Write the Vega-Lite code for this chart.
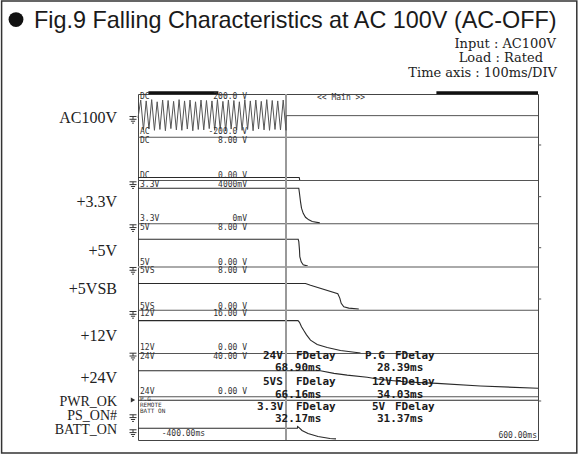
{
  "$schema": "https://vega.github.io/schema/vega-lite/v6.json",
  "width": 400,
  "height": 346,
  "autosize": {"type": "none"},
  "padding": {"left": 138, "top": 94, "right": 40, "bottom": 15},
  "background": "white",
  "config": {"view": {"stroke": "#444", "strokeWidth": 1}},
  "datasets": {
    "traces": [
      {"s": "ac", "t": -400, "d": 7.45}, {"s": "ac", "t": -393.2, "d": 7.86}, {"s": "ac", "t": -386.3, "d": 7.17}, {"s": "ac", "t": -379.5, "d": 7.84},
      {"s": "ac", "t": -372.6, "d": 7.19}, {"s": "ac", "t": -365.8, "d": 7.87}, {"s": "ac", "t": -358.9, "d": 7.16}, {"s": "ac", "t": -352.1, "d": 7.82},
      {"s": "ac", "t": -345.2, "d": 7.18}, {"s": "ac", "t": -338.4, "d": 7.86}, {"s": "ac", "t": -331.5, "d": 7.15}, {"s": "ac", "t": -324.7, "d": 7.85},
      {"s": "ac", "t": -317.8, "d": 7.2}, {"s": "ac", "t": -311, "d": 7.83}, {"s": "ac", "t": -304.1, "d": 7.17}, {"s": "ac", "t": -297.3, "d": 7.87},
      {"s": "ac", "t": -290.4, "d": 7.16}, {"s": "ac", "t": -283.6, "d": 7.84}, {"s": "ac", "t": -276.7, "d": 7.19}, {"s": "ac", "t": -269.9, "d": 7.86},
      {"s": "ac", "t": -263, "d": 7.15}, {"s": "ac", "t": -256.2, "d": 7.82}, {"s": "ac", "t": -249.3, "d": 7.18}, {"s": "ac", "t": -242.5, "d": 7.86},
      {"s": "ac", "t": -235.6, "d": 7.17}, {"s": "ac", "t": -228.8, "d": 7.85}, {"s": "ac", "t": -221.9, "d": 7.2}, {"s": "ac", "t": -215.1, "d": 7.84},
      {"s": "ac", "t": -208.2, "d": 7.16}, {"s": "ac", "t": -201.4, "d": 7.87}, {"s": "ac", "t": -194.5, "d": 7.18}, {"s": "ac", "t": -187.7, "d": 7.83},
      {"s": "ac", "t": -180.8, "d": 7.15}, {"s": "ac", "t": -174, "d": 7.86}, {"s": "ac", "t": -167.1, "d": 7.19}, {"s": "ac", "t": -160.3, "d": 7.85},
      {"s": "ac", "t": -153.4, "d": 7.17}, {"s": "ac", "t": -146.6, "d": 7.82}, {"s": "ac", "t": -139.7, "d": 7.16}, {"s": "ac", "t": -132.9, "d": 7.87},
      {"s": "ac", "t": -126, "d": 7.18}, {"s": "ac", "t": -119.2, "d": 7.84}, {"s": "ac", "t": -112.3, "d": 7.15}, {"s": "ac", "t": -105.5, "d": 7.86},
      {"s": "ac", "t": -98.6, "d": 7.19}, {"s": "ac", "t": -91.8, "d": 7.83}, {"s": "ac", "t": -84.9, "d": 7.17}, {"s": "ac", "t": -78.1, "d": 7.87},
      {"s": "ac", "t": -71.2, "d": 7.16}, {"s": "ac", "t": -64.4, "d": 7.85}, {"s": "ac", "t": -57.5, "d": 7.18}, {"s": "ac", "t": -50.7, "d": 7.84},
      {"s": "ac", "t": -43.8, "d": 7.17}, {"s": "ac", "t": -37, "d": 7.86}, {"s": "ac", "t": -30, "d": 7.16}, {"s": "ac", "t": -29.5, "d": 7.5},
      {"s": "ac", "t": 600, "d": 7.5},
      {"s": "ch2", "t": -400, "d": 6.07}, {"s": "ch2", "t": 3, "d": 6.07}, {"s": "ch2", "t": 4.5, "d": 6.0},
      {"s": "v33", "t": -400, "d": 5.82}, {"s": "v33", "t": 2, "d": 5.82}, {"s": "v33", "t": 3.75, "d": 5.7}, {"s": "v33", "t": 6.25, "d": 5.51},
      {"s": "v33", "t": 8.75, "d": 5.36}, {"s": "v33", "t": 13, "d": 5.24}, {"s": "v33", "t": 18.75, "d": 5.15}, {"s": "v33", "t": 27, "d": 5.09},
      {"s": "v33", "t": 35.5, "d": 5.05}, {"s": "v33", "t": 54.5, "d": 5.02},
      {"s": "v5", "t": -400, "d": 4.64}, {"s": "v5", "t": 0.5, "d": 4.64}, {"s": "v5", "t": 2, "d": 4.585}, {"s": "v5", "t": 3.75, "d": 4.39},
      {"s": "v5", "t": 4.5, "d": 4.24}, {"s": "v5", "t": 8, "d": 4.12}, {"s": "v5", "t": 13, "d": 4.05}, {"s": "v5", "t": 24.5, "d": 4.02},
      {"s": "v5sb", "t": -400, "d": 3.62}, {"s": "v5sb", "t": 18.75, "d": 3.62}, {"s": "v5sb", "t": 31.25, "d": 3.58}, {"s": "v5sb", "t": 99.5, "d": 3.38},
      {"s": "v5sb", "t": 104.5, "d": 3.28}, {"s": "v5sb", "t": 108, "d": 3.16}, {"s": "v5sb", "t": 114.5, "d": 3.08}, {"s": "v5sb", "t": 127, "d": 3.05},
      {"s": "v5sb", "t": 152, "d": 3.03},
      {"s": "v12", "t": -400, "d": 2.76}, {"s": "v12", "t": 0, "d": 2.76}, {"s": "v12", "t": 3.75, "d": 2.72}, {"s": "v12", "t": 8.75, "d": 2.62},
      {"s": "v12", "t": 14.5, "d": 2.53}, {"s": "v12", "t": 21.25, "d": 2.43}, {"s": "v12", "t": 31.25, "d": 2.31}, {"s": "v12", "t": 48, "d": 2.21},
      {"s": "v12", "t": 73, "d": 2.14}, {"s": "v12", "t": 106.25, "d": 2.07}, {"s": "v12", "t": 156.25, "d": 2.01},
      {"s": "v24", "t": -400, "d": 1.6}, {"s": "v24", "t": 56, "d": 1.6}, {"s": "v24", "t": 90, "d": 1.54}, {"s": "v24", "t": 123, "d": 1.5},
      {"s": "v24", "t": 173, "d": 1.45}, {"s": "v24", "t": 206, "d": 1.4}, {"s": "v24", "t": 273, "d": 1.34}, {"s": "v24", "t": 348, "d": 1.31},
      {"s": "v24", "t": 456, "d": 1.25}, {"s": "v24", "t": 600, "d": 1.195},
      {"s": "pg", "t": -400, "d": 0.92}, {"s": "pg", "t": 600, "d": 0.92},
      {"s": "batt", "t": -400, "d": 0.27}, {"s": "batt", "t": -1.5, "d": 0.27}, {"s": "batt", "t": -1, "d": 0.31}, {"s": "batt", "t": 2, "d": 0.29},
      {"s": "batt", "t": 10, "d": 0.22}, {"s": "batt", "t": 25, "d": 0.15}, {"s": "batt", "t": 50, "d": 0.08}, {"s": "batt", "t": 80, "d": 0.035},
      {"s": "batt", "t": 95, "d": 0.025}
    ],
    "scopeL": [
      {"t": -395, "d": 7.93, "label": "DC"}, {"t": -395, "d": 7.12, "label": "AC"},
      {"t": -395, "d": 6.91, "label": "DC"}, {"t": -395, "d": 6.1, "label": "DC"},
      {"t": -395, "d": 5.903, "label": "3.3V"}, {"t": -395, "d": 5.103, "label": "3.3V"},
      {"t": -395, "d": 4.909, "label": "5V"}, {"t": -395, "d": 4.086, "label": "5V"},
      {"t": -395, "d": 3.908, "label": "5VS"}, {"t": -395, "d": 3.082, "label": "5VS"},
      {"t": -395, "d": 2.906, "label": "12V"}, {"t": -395, "d": 2.12, "label": "12V"},
      {"t": -395, "d": 1.926, "label": "24V"}, {"t": -395, "d": 1.105, "label": "24V"},
      {"t": 47.5, "d": 7.915, "label": "<< Main >>"},
      {"t": -340.75, "d": 0.132, "label": "-400.00ms"}
    ],
    "scopeSmall": [
      {"t": -395, "d": 0.95, "label": "P.G"}, {"t": -395, "d": 0.805, "label": "REMOTE"},
      {"t": -395, "d": 0.66, "label": "BATT ON"}
    ],
    "scopeR": [
      {"t": -127.5, "d": 7.93, "label": "200.0 V"}, {"t": -127.5, "d": 7.12, "label": "-200.0 V"},
      {"t": -127.5, "d": 6.91, "label": "8.00 V"}, {"t": -127.5, "d": 6.1, "label": "0.00 V"},
      {"t": -127.5, "d": 5.903, "label": "4000mV"}, {"t": -127.5, "d": 5.103, "label": "0mV"},
      {"t": -127.5, "d": 4.909, "label": "8.00 V"}, {"t": -127.5, "d": 4.086, "label": "0.00 V"},
      {"t": -127.5, "d": 3.908, "label": "8.00 V"}, {"t": -127.5, "d": 3.082, "label": "0.00 V"},
      {"t": -127.5, "d": 2.906, "label": "16.00 V"}, {"t": -127.5, "d": 2.12, "label": "0.00 V"},
      {"t": -127.5, "d": 1.926, "label": "40.00 V"}, {"t": -127.5, "d": 1.105, "label": "0.00 V"},
      {"t": 597.5, "d": 0.092, "label": "600.00ms"}
    ],
    "meas": [
      {"t": -87.5, "d": 1.942, "label": "24V"}, {"t": -5, "d": 1.942, "label": "FDelay"},
      {"t": 167.5, "d": 1.942, "label": "P.G"}, {"t": 242.5, "d": 1.942, "label": "FDelay"},
      {"t": -57.5, "d": 1.665, "label": "68.90ms"}, {"t": 197.5, "d": 1.665, "label": "28.39ms"},
      {"t": -87.5, "d": 1.341, "label": "5VS"}, {"t": -5, "d": 1.341, "label": "FDelay"},
      {"t": 185, "d": 1.341, "label": "12V"}, {"t": 242.5, "d": 1.341, "label": "FDelay"},
      {"t": -57.5, "d": 1.04, "label": "66.16ms"}, {"t": 197.5, "d": 1.04, "label": "34.03ms"},
      {"t": -102.5, "d": 0.763, "label": "3.3V"}, {"t": -5, "d": 0.763, "label": "FDelay"},
      {"t": 185, "d": 0.763, "label": "5V"}, {"t": 242.5, "d": 0.763, "label": "FDelay"},
      {"t": -57.5, "d": 0.486, "label": "32.17ms"}, {"t": 197.5, "d": 0.486, "label": "31.37ms"}
    ],
    "chanTop": [
      {"t": -452.5, "d": 7.44, "label": "AC100V"},
      {"t": -452.5, "d": 5.51, "label": "+3.3V"},
      {"t": -452.5, "d": 4.36, "label": "+5V"},
      {"t": -452.5, "d": 3.49, "label": "+5VSB"},
      {"t": -452.5, "d": 2.4, "label": "+12V"},
      {"t": -452.5, "d": 1.445, "label": "+24V"}
    ],
    "chanBottom": [
      {"t": -452.5, "d": 0.89, "label": "PWR_OK"},
      {"t": -452.5, "d": 0.555, "label": "PS_ON#"},
      {"t": -452.5, "d": 0.231, "label": "BATT_ON"}
    ],
    "grounds": [
      {"t": -412.5, "d": 7.399}, {"t": -412.5, "d": 5.889}, {"t": -412.5, "d": 4.895}, {"t": -412.5, "d": 3.908},
      {"t": -412.5, "d": 2.89}, {"t": -412.5, "d": 1.926}, {"t": -412.5, "d": 0.502}, {"t": -412.5, "d": 0.155}
    ],
    "rticks": [{"t": 600, "t2": 608, "d": 6.821}, {"t": 600, "t2": 608, "d": 5.626}, {"t": 600, "t2": 608, "d": 4.446}, {"t": 600, "t2": 608, "d": 3.26}, {"t": 600, "t2": 608, "d": 0.902}]
  },
  "layer": [
    {
      "data": {"name": "traces"},
      "transform": [{"filter": "datum.s !== 'ac'"}],
      "mark": {"type": "line", "color": "#2a2a2a", "strokeWidth": 1.1},
      "encoding": {
        "x": {"field": "t", "type": "quantitative", "scale": {"domain": [-400, 600], "nice": false, "zero": false},
          "axis": {"title": null, "labels": false, "ticks": false, "domain": false, "grid": true, "gridDash": [1, 2], "gridColor": "#666", "gridWidth": 1,
            "values": [-300, -200, -100, 0, 100, 200, 300, 400, 500]}},
        "y": {"field": "d", "type": "quantitative", "scale": {"domain": [0, 8], "nice": false, "zero": false},
          "axis": {"title": null, "labels": false, "ticks": false, "domain": false, "grid": true, "gridDash": [1, 3], "gridColor": "#666", "gridWidth": 1,
            "values": [0.2, 0.4, 0.6, 0.8, 1.2, 1.4, 1.6, 1.8, 2.2, 2.4, 2.6, 2.8, 3.2, 3.4, 3.6, 3.8, 4.2, 4.4, 4.6, 4.8, 5.2, 5.4, 5.6, 5.8, 6.2, 6.4, 6.6, 6.8, 7.2, 7.4, 7.6, 7.8]}},
        "detail": {"field": "s", "type": "nominal"}
      }
    },
    {
      "data": {"values": [{"d": 1}, {"d": 2}, {"d": 3}, {"d": 5}, {"d": 6}, {"d": 7}]},
      "mark": {"type": "rule", "color": "#555", "strokeWidth": 1},
      "encoding": {"y": {"field": "d", "type": "quantitative", "scale": {"domain": [0, 8], "nice": false, "zero": false}, "axis": null}}
    },
    {
      "data": {"values": [{"d": 4}]},
      "mark": {"type": "rule", "color": "#aaa", "strokeWidth": 2},
      "encoding": {"y": {"field": "d", "type": "quantitative", "scale": {"domain": [0, 8], "nice": false, "zero": false}, "axis": null}}
    },
    {
      "data": {"values": [{"t": -30}]},
      "mark": {"type": "rule", "color": "#999", "strokeWidth": 2},
      "encoding": {"x": {"field": "t", "type": "quantitative", "scale": {"domain": [-400, 600], "nice": false, "zero": false}, "axis": null}}
    },
    {
      "data": {"name": "traces"},
      "transform": [{"filter": "datum.s === 'ac'"}],
      "mark": {"type": "line", "color": "#555", "strokeWidth": 1},
      "encoding": {
        "x": {"field": "t", "type": "quantitative", "scale": {"domain": [-400, 600], "nice": false, "zero": false}, "axis": null},
        "y": {"field": "d", "type": "quantitative", "scale": {"domain": [0, 8], "nice": false, "zero": false}, "axis": null}
      }
    },
    {
      "data": {"values": [{"t": -374, "t2": -199, "d": 8.03}, {"t": 346, "t2": 600, "d": 8.03}]},
      "mark": {"type": "rule", "color": "#111", "strokeWidth": 3},
      "encoding": {
        "x": {"field": "t", "type": "quantitative", "scale": {"domain": [-400, 600], "nice": false, "zero": false}, "axis": null},
        "x2": {"field": "t2"},
        "y": {"field": "d", "type": "quantitative", "scale": {"domain": [0, 8], "nice": false, "zero": false}, "axis": null}
      }
    },
    {
      "data": {"name": "rticks"},
      "mark": {"type": "rule", "color": "#555", "strokeWidth": 1},
      "encoding": {
        "x": {"field": "t", "type": "quantitative", "scale": {"domain": [-400, 600], "nice": false, "zero": false}, "axis": null},
        "x2": {"field": "t2"},
        "y": {"field": "d", "type": "quantitative", "scale": {"domain": [0, 8], "nice": false, "zero": false}, "axis": null}
      }
    },
    {
      "data": {"name": "scopeL"},
      "mark": {"type": "text", "font": "DejaVu Sans Mono", "fontSize": 8, "color": "#333", "align": "left", "baseline": "middle"},
      "encoding": {
        "x": {"field": "t", "type": "quantitative", "scale": {"domain": [-400, 600], "nice": false, "zero": false}, "axis": null},
        "y": {"field": "d", "type": "quantitative", "scale": {"domain": [0, 8], "nice": false, "zero": false}, "axis": null},
        "text": {"field": "label"}
      }
    },
    {
      "data": {"name": "scopeSmall"},
      "mark": {"type": "text", "font": "DejaVu Sans Mono", "fontSize": 6, "color": "#333", "align": "left", "baseline": "middle"},
      "encoding": {
        "x": {"field": "t", "type": "quantitative", "scale": {"domain": [-400, 600], "nice": false, "zero": false}, "axis": null},
        "y": {"field": "d", "type": "quantitative", "scale": {"domain": [0, 8], "nice": false, "zero": false}, "axis": null},
        "text": {"field": "label"}
      }
    },
    {
      "data": {"name": "scopeR"},
      "mark": {"type": "text", "font": "DejaVu Sans Mono", "fontSize": 8, "color": "#333", "align": "right", "baseline": "middle"},
      "encoding": {
        "x": {"field": "t", "type": "quantitative", "scale": {"domain": [-400, 600], "nice": false, "zero": false}, "axis": null},
        "y": {"field": "d", "type": "quantitative", "scale": {"domain": [0, 8], "nice": false, "zero": false}, "axis": null},
        "text": {"field": "label"}
      }
    },
    {
      "data": {"name": "meas"},
      "mark": {"type": "text", "font": "DejaVu Sans Mono", "fontSize": 11, "fontWeight": "bold", "color": "#1a1a1a", "align": "left", "baseline": "middle"},
      "encoding": {
        "x": {"field": "t", "type": "quantitative", "scale": {"domain": [-400, 600], "nice": false, "zero": false}, "axis": null},
        "y": {"field": "d", "type": "quantitative", "scale": {"domain": [0, 8], "nice": false, "zero": false}, "axis": null},
        "text": {"field": "label"}
      }
    },
    {
      "data": {"name": "chanTop"},
      "mark": {"type": "text", "font": "Liberation Serif", "fontSize": 16, "color": "#222", "align": "right", "baseline": "middle"},
      "encoding": {
        "x": {"field": "t", "type": "quantitative", "scale": {"domain": [-400, 600], "nice": false, "zero": false}, "axis": null},
        "y": {"field": "d", "type": "quantitative", "scale": {"domain": [0, 8], "nice": false, "zero": false}, "axis": null},
        "text": {"field": "label"}
      }
    },
    {
      "data": {"name": "chanBottom"},
      "mark": {"type": "text", "font": "Liberation Serif", "fontSize": 14, "color": "#222", "align": "right", "baseline": "middle"},
      "encoding": {
        "x": {"field": "t", "type": "quantitative", "scale": {"domain": [-400, 600], "nice": false, "zero": false}, "axis": null},
        "y": {"field": "d", "type": "quantitative", "scale": {"domain": [0, 8], "nice": false, "zero": false}, "axis": null},
        "text": {"field": "label"}
      }
    },
    {
      "data": {"name": "grounds"},
      "mark": {"type": "point", "shape": "M -1 -1 L 1 -1 M 0 -1 L 0 -0.2 M -1 -0.2 L 1 -0.2 M -0.6 0.35 L 0.6 0.35 M -0.25 0.9 L 0.25 0.9", "size": 49, "filled": false, "stroke": "#333", "strokeWidth": 1, "opacity": 1},
      "encoding": {
        "x": {"field": "t", "type": "quantitative", "scale": {"domain": [-400, 600], "nice": false, "zero": false}, "axis": null},
        "y": {"field": "d", "type": "quantitative", "scale": {"domain": [0, 8], "nice": false, "zero": false}, "axis": null}
      }
    },
    {
      "data": {"values": [{"t": -412.5, "d": 0.925}]},
      "mark": {"type": "point", "shape": "triangle-right", "size": 25, "filled": true, "color": "#333", "opacity": 1},
      "encoding": {
        "x": {"field": "t", "type": "quantitative", "scale": {"domain": [-400, 600], "nice": false, "zero": false}, "axis": null},
        "y": {"field": "d", "type": "quantitative", "scale": {"domain": [0, 8], "nice": false, "zero": false}, "axis": null}
      }
    },
    {
      "data": {"values": [{"t": -705, "d": 9.72}]},
      "mark": {"type": "point", "shape": "circle", "size": 220, "filled": true, "color": "#111", "opacity": 1},
      "encoding": {
        "x": {"field": "t", "type": "quantitative", "scale": {"domain": [-400, 600], "nice": false, "zero": false}, "axis": null},
        "y": {"field": "d", "type": "quantitative", "scale": {"domain": [0, 8], "nice": false, "zero": false}, "axis": null}
      }
    },
    {
      "data": {"values": [{"t": -660, "d": 9.52, "label": "Fig.9 Falling Characteristics at AC 100V (AC-OFF)"}]},
      "mark": {"type": "text", "font": "Liberation Sans", "fontSize": 23.4, "color": "#1a1a1a", "align": "left", "baseline": "alphabetic"},
      "encoding": {
        "x": {"field": "t", "type": "quantitative", "scale": {"domain": [-400, 600], "nice": false, "zero": false}, "axis": null},
        "y": {"field": "d", "type": "quantitative", "scale": {"domain": [0, 8], "nice": false, "zero": false}, "axis": null},
        "text": {"field": "label"}
      }
    },
    {
      "data": {"values": [
        {"t": 645, "d": 9.064, "label": "Input : AC100V"},
        {"t": 612.5, "d": 8.74, "label": "Load : Rated"},
        {"t": 647.5, "d": 8.393, "label": "Time axis : 100ms/DIV"}
      ]},
      "mark": {"type": "text", "font": "DejaVu Serif", "fontSize": 13, "color": "#222", "align": "right", "baseline": "alphabetic"},
      "encoding": {
        "x": {"field": "t", "type": "quantitative", "scale": {"domain": [-400, 600], "nice": false, "zero": false}, "axis": null},
        "y": {"field": "d", "type": "quantitative", "scale": {"domain": [0, 8], "nice": false, "zero": false}, "axis": null},
        "text": {"field": "label"}
      }
    },
    {
      "data": {"values": [{"t": -741, "t2": 697, "d": 10.15, "d2": -0.3}]},
      "mark": {"type": "rect", "fill": "transparent", "stroke": "#333", "strokeWidth": 1.5},
      "encoding": {
        "x": {"field": "t", "type": "quantitative", "scale": {"domain": [-400, 600], "nice": false, "zero": false}, "axis": null},
        "x2": {"field": "t2"},
        "y": {"field": "d", "type": "quantitative", "scale": {"domain": [0, 8], "nice": false, "zero": false}, "axis": null},
        "y2": {"field": "d2"}
      }
    }
  ]
}
